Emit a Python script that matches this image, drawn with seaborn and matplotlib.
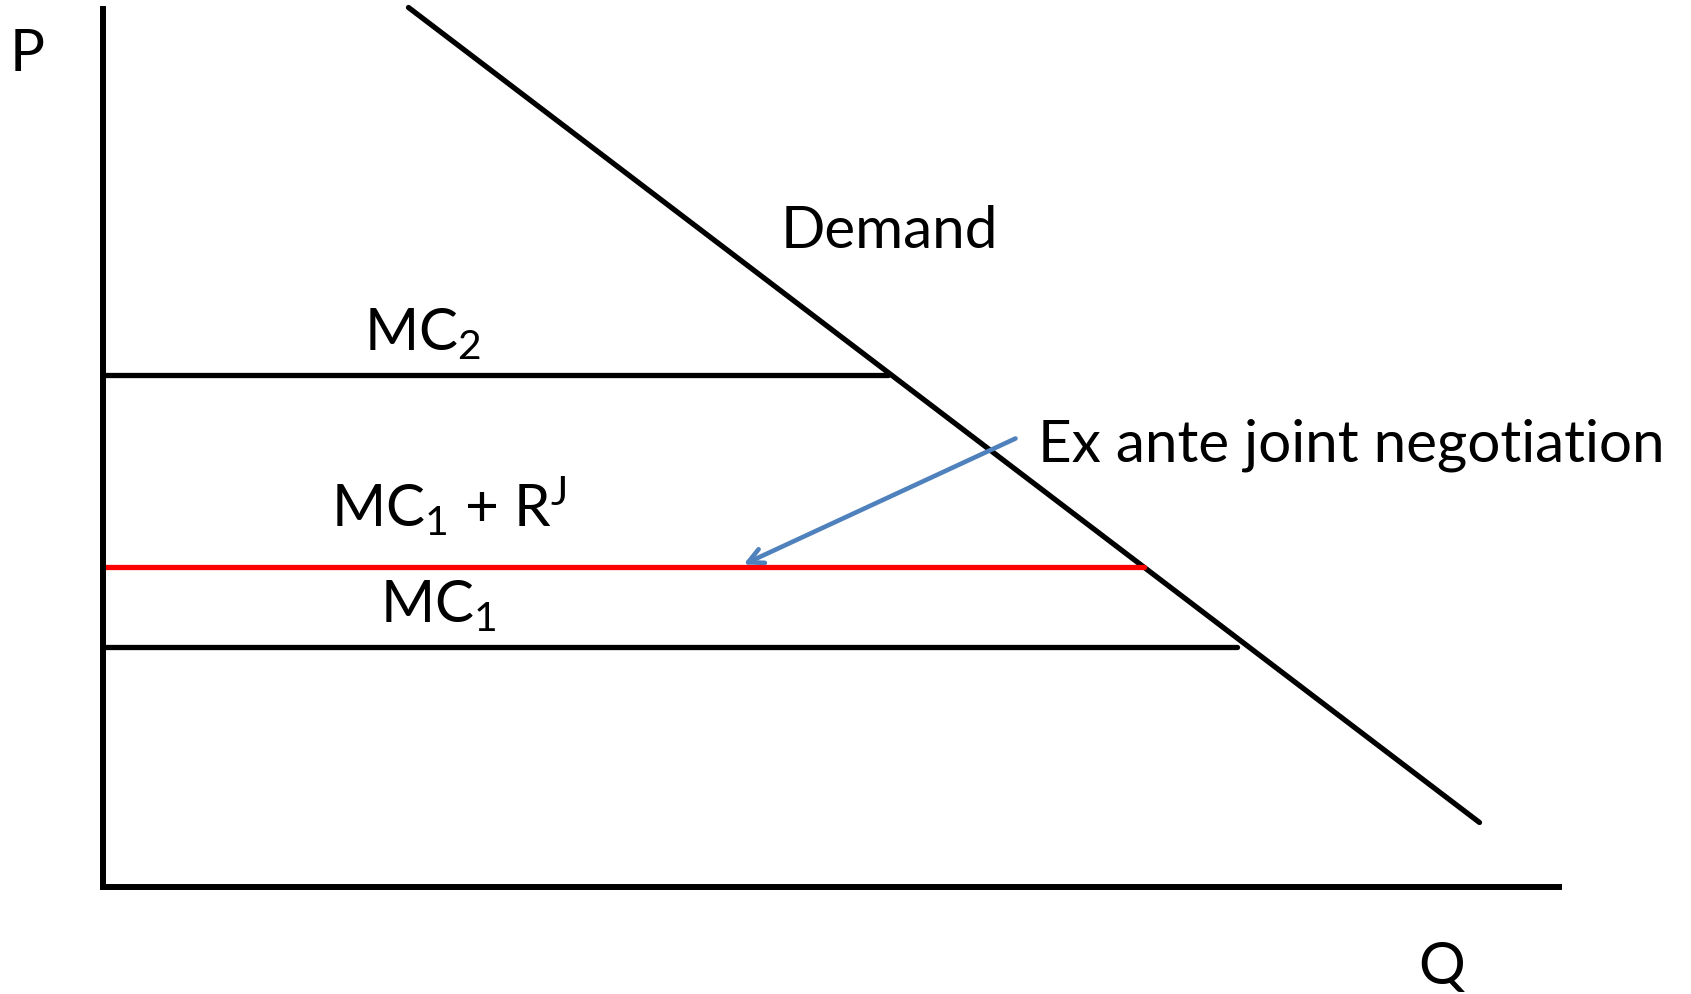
import matplotlib
matplotlib.use("Agg")
import matplotlib.pyplot as plt
import seaborn as sns
import pandas as pd

sns.set_theme(style="white")
plt.rcParams['font.family'] = ['Lato', 'DejaVu Sans']
plt.rcParams['mathtext.fontset'] = 'custom'
plt.rcParams['mathtext.rm'] = 'Lato'
plt.rcParams['mathtext.it'] = 'Lato:italic'
plt.rcParams['text.color'] = 'black'

# ---- data (model units) ----
demand_q = [3.05, 13.76]
demand_p = [8.79, 0.64]
mc_names = ["MC2", "MC1+RJ", "MC1"]
mc_p = [5.11, 3.20, 2.40]
mc_q_end = [7.84, 10.40, 11.33]
mc_colors = ["black", "#FF0000", "black"]
q_axis_max = 14.55
p_axis_max = 8.78
arrow_tail = (9.12, 4.48)
arrow_head = (6.40, 3.22)

fig = plt.figure(figsize=(16.91, 9.94), dpi=100)
ax = fig.add_axes([0, 0, 1, 1])
ax.set_xlim(-1.035, 15.875)
ax.set_ylim(-1.075, 8.865)

# axes as spines
for s in ["top", "right"]:
    ax.spines[s].set_visible(False)
ax.spines["left"].set_position(("data", 0))
ax.spines["bottom"].set_position(("data", 0))
ax.spines["left"].set_bounds(0, p_axis_max)
ax.spines["bottom"].set_bounds(0, q_axis_max)
for s in ["left", "bottom"]:
    ax.spines[s].set_linewidth(4.3)
    ax.spines[s].set_color("black")
ax.set_xticks([])
ax.set_yticks([])
ax.set_facecolor("white")

# demand
dem = pd.DataFrame({"Q": demand_q, "P": demand_p})
sns.lineplot(data=dem, x="Q", y="P", ax=ax, color="black", linewidth=3.8,
             sort=False, estimator=None)

# MC lines
for name, p, qe, c in zip(mc_names, mc_p, mc_q_end, mc_colors):
    d = pd.DataFrame({"Q": [0, qe], "P": [p, p]})
    sns.lineplot(data=d, x="Q", y="P", ax=ax, color=c, linewidth=3.8,
                 estimator=None)
ax.set_xlabel("")
ax.set_ylabel("")

# arrow
ax.annotate("", xy=arrow_head, xytext=arrow_tail,
            arrowprops=dict(arrowstyle="->,head_length=0.9,head_width=0.45",
                            color="#4F81BD", lw=3.3, shrinkA=0, shrinkB=0))

fs = 42
ax.text(-0.765, 8.325, "P", fontsize=fs, ha="center", va="center")
ax.text(13.385, -0.55, "Q", fontsize=fs, ha="center", va="top")
ax.text(7.86, 6.55, "Demand", fontsize=fs, ha="center", va="center")
ax.text(2.60, 5.365, "MC$_2$", fontsize=fs, ha="left", va="baseline")
ax.text(2.28, 3.60, "MC$_1$ + R$^{\\mathrm{J}}$", fontsize=fs, ha="left", va="baseline")
ax.text(2.77, 2.645, "MC$_1$", fontsize=fs, ha="left", va="baseline")
ax.text(9.34, 4.25, "Ex ante joint negotiation", fontsize=fs, ha="left", va="baseline")

fig.savefig("out.png", dpi=100, facecolor="white")
